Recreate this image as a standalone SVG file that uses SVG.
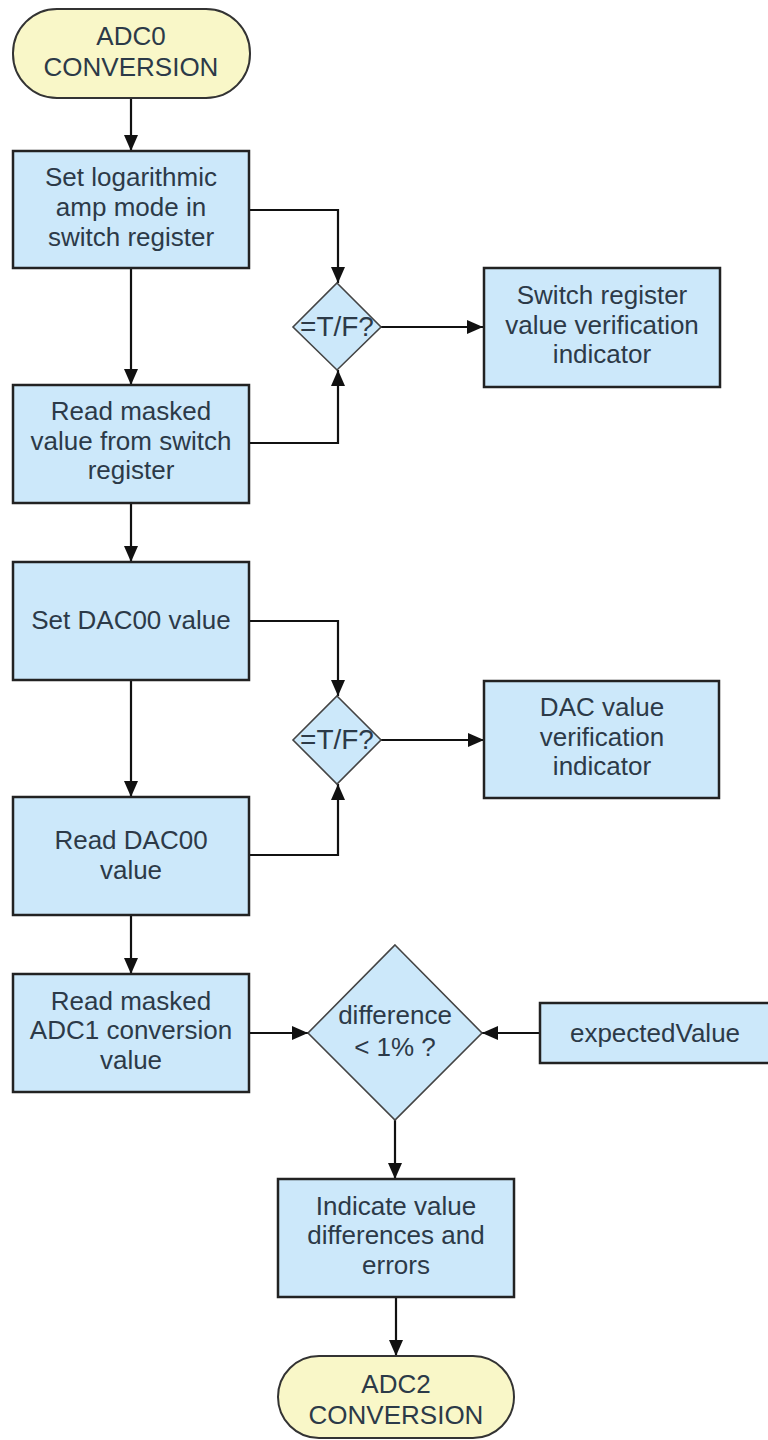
<svg xmlns="http://www.w3.org/2000/svg" width="768" height="1440" viewBox="0 0 768 1440">
  <style>
    .proc { fill: #cce8fa; stroke: #222; stroke-width: 2.5; }
    .term { fill: #f9f7c8; stroke: #333; stroke-width: 2; }
    .dec { fill: #cce8fa; stroke: #444; stroke-width: 1.6; }
    .lbl { font-family: "Liberation Sans", Arial, sans-serif; font-size: 26px; fill: #2c3a48; text-anchor: middle; }
    .tf { font-size: 28px; }
    .edge { fill: none; stroke: #111; stroke-width: 2.2; }
  </style>
  <defs>
    <marker id="arrow" viewBox="0 0 16 14" refX="16" refY="7" markerWidth="16" markerHeight="14" markerUnits="userSpaceOnUse" orient="auto">
      <path d="M0,0 L16,7 L0,14 Z" fill="#111"/>
    </marker>
  </defs>
  <rect width="768" height="1440" fill="#ffffff"/>

  <g id="connectors">
    <path class="edge" d="M131,98 V151" marker-end="url(#arrow)"/>
    <path class="edge" d="M131,268 V385" marker-end="url(#arrow)"/>
    <path class="edge" d="M249,210 H338 V283" marker-end="url(#arrow)"/>
    <path class="edge" d="M249,443 H338 V370" marker-end="url(#arrow)"/>
    <path class="edge" d="M381,327 H483" marker-end="url(#arrow)"/>
    <path class="edge" d="M131,503 V562" marker-end="url(#arrow)"/>
    <path class="edge" d="M131,680 V797" marker-end="url(#arrow)"/>
    <path class="edge" d="M249,621 H338 V696" marker-end="url(#arrow)"/>
    <path class="edge" d="M249,855 H338 V784" marker-end="url(#arrow)"/>
    <path class="edge" d="M381,740 H484" marker-end="url(#arrow)"/>
    <path class="edge" d="M131,915 V974" marker-end="url(#arrow)"/>
    <path class="edge" d="M249,1033 H308" marker-end="url(#arrow)"/>
    <path class="edge" d="M540,1033 H482" marker-end="url(#arrow)"/>
    <path class="edge" d="M395,1120 V1179" marker-end="url(#arrow)"/>
    <path class="edge" d="M396,1297 V1356" marker-end="url(#arrow)"/>
  </g>

  <g id="start">
    <rect class="term" x="13" y="9" width="237" height="89" rx="44" ry="44"/>
    <text class="lbl" x="131" y="45">ADC0</text>
    <text class="lbl" x="131" y="76">CONVERSION</text>
  </g>

  <g id="set-log-amp">
    <rect class="proc" x="13" y="151" width="236" height="117"/>
    <text class="lbl" x="131" y="186">Set logarithmic</text>
    <text class="lbl" x="131" y="216">amp mode in</text>
    <text class="lbl" x="131" y="246">switch register</text>
  </g>

  <g id="check-switch">
    <polygon class="dec" points="337,283 381,327 337,370 293,327"/>
    <text class="lbl tf" x="337" y="336">=T/F?</text>
  </g>

  <g id="switch-indicator">
    <rect class="proc" x="484" y="268" width="236" height="119"/>
    <text class="lbl" x="602" y="304">Switch register</text>
    <text class="lbl" x="602" y="334">value verification</text>
    <text class="lbl" x="602" y="363">indicator</text>
  </g>

  <g id="read-switch">
    <rect class="proc" x="13" y="385" width="236" height="118"/>
    <text class="lbl" x="131" y="420">Read masked</text>
    <text class="lbl" x="131" y="450">value from switch</text>
    <text class="lbl" x="131" y="479">register</text>
  </g>

  <g id="set-dac">
    <rect class="proc" x="13" y="562" width="236" height="118"/>
    <text class="lbl" x="131" y="629">Set DAC00 value</text>
  </g>

  <g id="check-dac">
    <polygon class="dec" points="337,696 381,740 337,784 293,740"/>
    <text class="lbl tf" x="337" y="749">=T/F?</text>
  </g>

  <g id="dac-indicator">
    <rect class="proc" x="484" y="681" width="235" height="117"/>
    <text class="lbl" x="602" y="716">DAC value</text>
    <text class="lbl" x="602" y="746">verification</text>
    <text class="lbl" x="602" y="775">indicator</text>
  </g>

  <g id="read-dac">
    <rect class="proc" x="13" y="797" width="236" height="118"/>
    <text class="lbl" x="131" y="849">Read DAC00</text>
    <text class="lbl" x="131" y="879">value</text>
  </g>

  <g id="read-adc1">
    <rect class="proc" x="13" y="974" width="236" height="118"/>
    <text class="lbl" x="131" y="1010">Read masked</text>
    <text class="lbl" x="131" y="1039">ADC1 conversion</text>
    <text class="lbl" x="131" y="1069">value</text>
  </g>

  <g id="compare">
    <polygon class="dec" points="395,945 482,1033 395,1120 308,1033"/>
    <text class="lbl" x="395" y="1024">difference</text>
    <text class="lbl" x="395" y="1056">&lt; 1% ?</text>
  </g>

  <g id="expected">
    <rect class="proc" x="540" y="1003" width="232" height="60"/>
    <text class="lbl" x="655" y="1042">expectedValue</text>
  </g>

  <g id="indicate-errors">
    <rect class="proc" x="278" y="1179" width="236" height="118"/>
    <text class="lbl" x="396" y="1215">Indicate value</text>
    <text class="lbl" x="396" y="1244">differences and</text>
    <text class="lbl" x="396" y="1274">errors</text>
  </g>

  <g id="end">
    <rect class="term" x="278" y="1356" width="236" height="82" rx="41" ry="41"/>
    <text class="lbl" x="396" y="1393">ADC2</text>
    <text class="lbl" x="396" y="1424">CONVERSION</text>
  </g>
</svg>
